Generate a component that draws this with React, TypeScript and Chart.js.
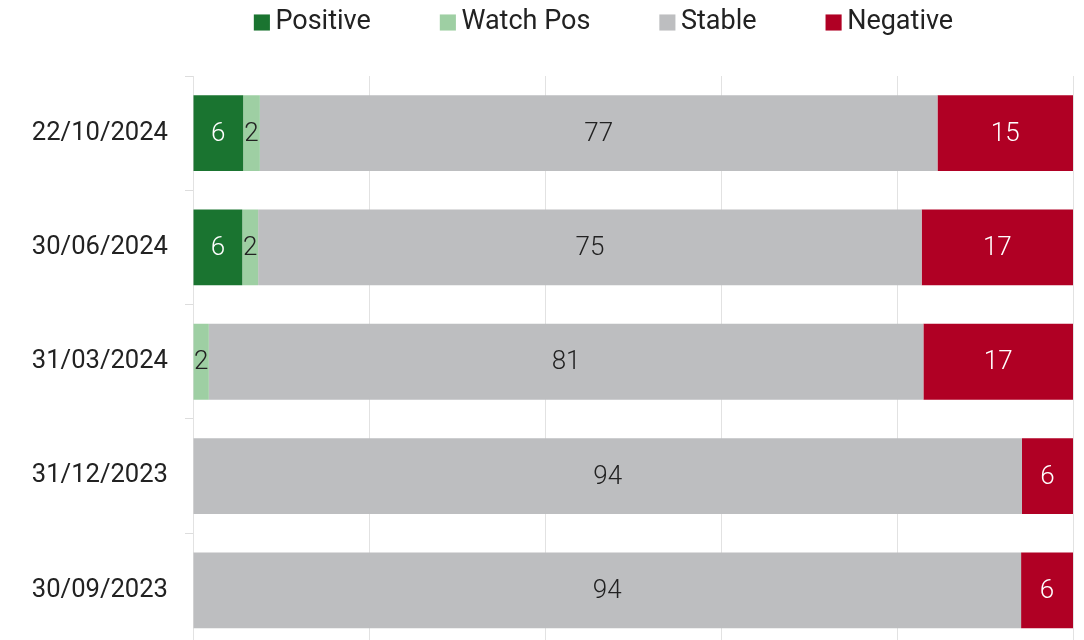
import React, { useEffect, useRef } from 'react';
import { Chart, registerables } from 'chart.js';
Chart.register(...registerables);

const categories = ['22/10/2024', '30/06/2024', '31/03/2024', '31/12/2023', '30/09/2023'];
const positive = [5.7, 5.6, 0, 0, 0];
const watchPos = [1.9, 1.8, 1.8, 0, 0];
const stable = [77.0, 75.4, 81.2, 94.2, 94.1];
const negative = [15.4, 17.2, 17.0, 5.8, 5.9];
const seriesNames = ['Positive', 'Watch Pos', 'Stable', 'Negative'];
const seriesColors = ['#1a7430', '#9ecfa3', '#bdbec0', '#b00024'];
const labelColors = ['#ffffff', '#222222', '#222222', '#ffffff'];
const xMin = 0;
const xMax = 100;
const xStep = 20;

const FONT = 'Roboto, "Open Sans", sans-serif';

const dataLabelPlugin = {
  id: 'dataLabels',
  afterDatasetsDraw(chart: any) {
    const ctx = chart.ctx;
    ctx.save();
    ctx.font = '300 26px ' + FONT;
    ctx.textAlign = 'center';
    ctx.textBaseline = 'middle';
    chart.data.datasets.forEach((ds: any, i: number) => {
      const meta = chart.getDatasetMeta(i);
      meta.data.forEach((el: any, j: number) => {
        const v = ds.data[j];
        if (!v) return;
        const p = el.getProps(['x', 'base', 'y'], true);
        ctx.fillStyle = labelColors[i];
        ctx.fillText(String(Math.round(v)), (p.x + p.base) / 2, p.y + 1);
      });
    });
    ctx.restore();
  },
};

const legendGapPlugin = {
  id: 'legendGap',
  beforeInit(chart: any) {
    const lg = chart.legend;
    if (!lg) return;
    const fit = lg.fit;
    lg.fit = function () {
      fit.call(this);
      this.height = 76;
    };
  },
  beforeDraw(chart: any) {
    const lg = chart.legend;
    if (!lg) return;
    lg.left = 142;
    lg.right = 1073;
    lg.top = -68;
  },
};

export default function App() {
  const ref = useRef<HTMLCanvasElement | null>(null);
  useEffect(() => {
    document.body.style.margin = '0';
    const canvas = ref.current;
    if (!canvas) return;
    const data = [positive, watchPos, stable, negative];
    const defaultLabels = (Chart as any).defaults.plugins.legend.labels.generateLabels;
    const chart = new Chart(canvas, {
      type: 'bar',
      data: {
        labels: categories,
        datasets: seriesNames.map((name, i) => ({
          label: name,
          data: data[i],
          backgroundColor: seriesColors[i],
          borderWidth: 0,
          barPercentage: 0.663,
          categoryPercentage: 1,
        })),
      },
      options: {
        indexAxis: 'y',
        responsive: false,
        animation: false,
        layout: { padding: { left: 0, right: 11, top: 0, bottom: 52.5 } },
        plugins: {
          tooltip: { enabled: false },
          legend: {
            position: 'top',
            labels: {
              boxWidth: 0.1,
              boxHeight: 0.1,
              padding: 77,
              color: '#222222',
              font: { family: FONT, size: 27 },
              generateLabels(chart: any) {
                return defaultLabels(chart).map((item: any, i: number) => ({
                  ...item,
                  fillStyle: seriesColors[i],
                  strokeStyle: seriesColors[i],
                  lineWidth: 16,
                  lineJoin: 'miter',
                  lineCap: 'butt',
                  lineDash: [],
                }));
              },
            },
          },
        },
        scales: {
          x: {
            stacked: true,
            min: xMin,
            max: xMax,
            ticks: { display: false, stepSize: xStep },
            grid: { color: '#e2e2e2', drawTicks: false },
            border: { display: false },
          },
          y: {
            stacked: true,
            afterFit(scale: any) {
              scale.width = 193;
            },
            ticks: {
              color: '#222222',
              padding: 17,
              font: { family: FONT, size: 25.6 },
            },
            grid: { color: '#dddddd', drawOnChartArea: false, drawTicks: true, tickLength: 8 },
            border: { display: true, color: '#e2e2e2' },
          },
        },
      },
      plugins: [dataLabelPlugin, legendGapPlugin],
    });
    return () => chart.destroy();
  }, []);
  return (
    <div style={{ position: 'fixed', left: 0, top: 0, width: 1084, height: 640, overflow: 'hidden', background: '#fff' }}>
      <canvas ref={ref} width={1084} height={700} />
    </div>
  );
}
